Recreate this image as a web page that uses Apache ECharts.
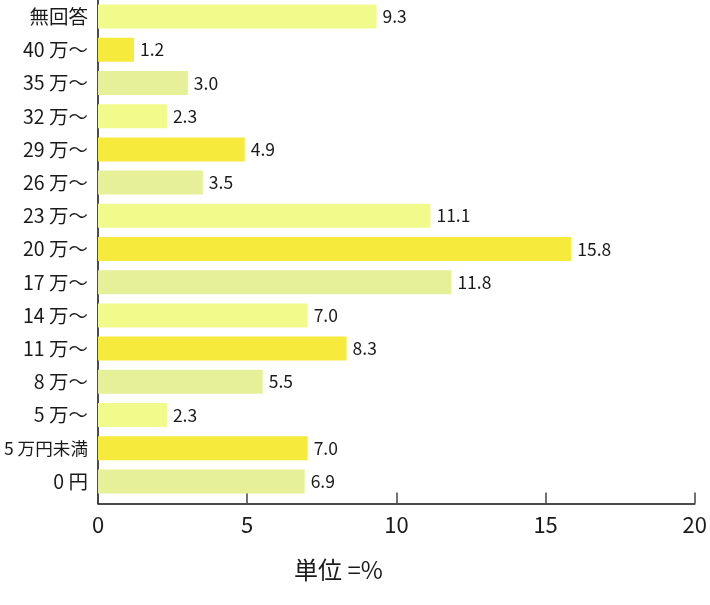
<!DOCTYPE html>
<html>
<head>
<meta charset="utf-8">
<script src="https://cdn.jsdelivr.net/npm/echarts@6/dist/echarts.min.js"></script>
<style>
html,body{margin:0;padding:0;background:#fff;}
#chart{width:710px;height:605px;}
</style>
</head>
<body>
<div id="chart"></div>
<script>
// categories listed bottom-to-top (category axis starts at bottom)
var categories = ["0 円", "5 万円未満", "5 万～", "8 万～", "11 万～", "14 万～", "17 万～", "20 万～", "23 万～", "26 万～", "29 万～", "32 万～", "35 万～", "40 万～", "無回答"];
var values = [6.9, 7.0, 2.3, 5.5, 8.3, 7.0, 11.8, 15.8, 11.1, 3.5, 4.9, 2.3, 3.0, 1.2, 9.3];
var xTicks = [0, 5, 10, 15, 20];
var unitLabel = "単位 =%";

var palette = ["#e6f098", "#f6ea3d", "#f1fb8c"];
var FONT = '"Noto Sans CJK JP", "Noto Sans", sans-serif';

var chart = echarts.init(document.getElementById('chart'), null, {renderer: 'canvas'});
var option = {
  animation: false,
  backgroundColor: '#ffffff',
  textStyle: {fontFamily: FONT},
  title: {
    text: unitLabel,
    left: 289,
    top: 553,
    textStyle: {fontFamily: FONT, fontSize: 24, fontWeight: 'normal', color: '#1a1a1a'}
  },
  grid: [
    {left: 98, top: 0, width: 599, height: 498, containLabel: false},
    {left: 98, top: 0, width: 599, height: 503.5, containLabel: false}
  ],
  xAxis: [
    {gridIndex: 0, type: 'value', min: xTicks[0], max: xTicks[xTicks.length - 1], interval: 5, show: false},
    {gridIndex: 1, type: 'value', min: xTicks[0], max: xTicks[xTicks.length - 1], interval: 5,
      axisLine: {show: true, lineStyle: {color: '#111', width: 1.5}},
      axisTick: {show: true, inside: true, length: 11, lineStyle: {color: '#444', width: 1.5}},
      axisLabel: {show: true, margin: 10, fontSize: 22, color: '#1a1a1a', fontFamily: FONT},
      splitLine: {show: false}
    }
  ],
  yAxis: [
    {gridIndex: 0, type: 'category', data: categories,
      axisLine: {show: false}, axisTick: {show: false},
      axisLabel: {
        margin: 10, fontSize: 19.5, color: '#1a1a1a', fontFamily: FONT,
        formatter: function (v) {
          return v.length > 5 ? '{s|' + v + '}' : v;
        },
        rich: {s: {fontSize: 17.6, color: '#1a1a1a', fontFamily: FONT}}
      }
    },
    {gridIndex: 1, type: 'value', min: 0, max: 1,
      axisLine: {show: true, lineStyle: {color: '#111', width: 1.5}},
      axisTick: {show: false}, axisLabel: {show: false}, splitLine: {show: false}
    }
  ],
  series: [{
    type: 'bar',
    xAxisIndex: 0,
    yAxisIndex: 0,
    barWidth: 24,
    data: values.map(function (v, i) {
      return {value: v, itemStyle: {color: palette[i % 3]}};
    }),
    label: {
      show: true,
      position: 'right',
      distance: 6,
      fontSize: 17.5,
      color: '#1a1a1a',
      fontFamily: FONT,
      formatter: function (p) { return p.value.toFixed(1); }
    }
  }]
};
chart.setOption(option);
</script>
</body>
</html>
